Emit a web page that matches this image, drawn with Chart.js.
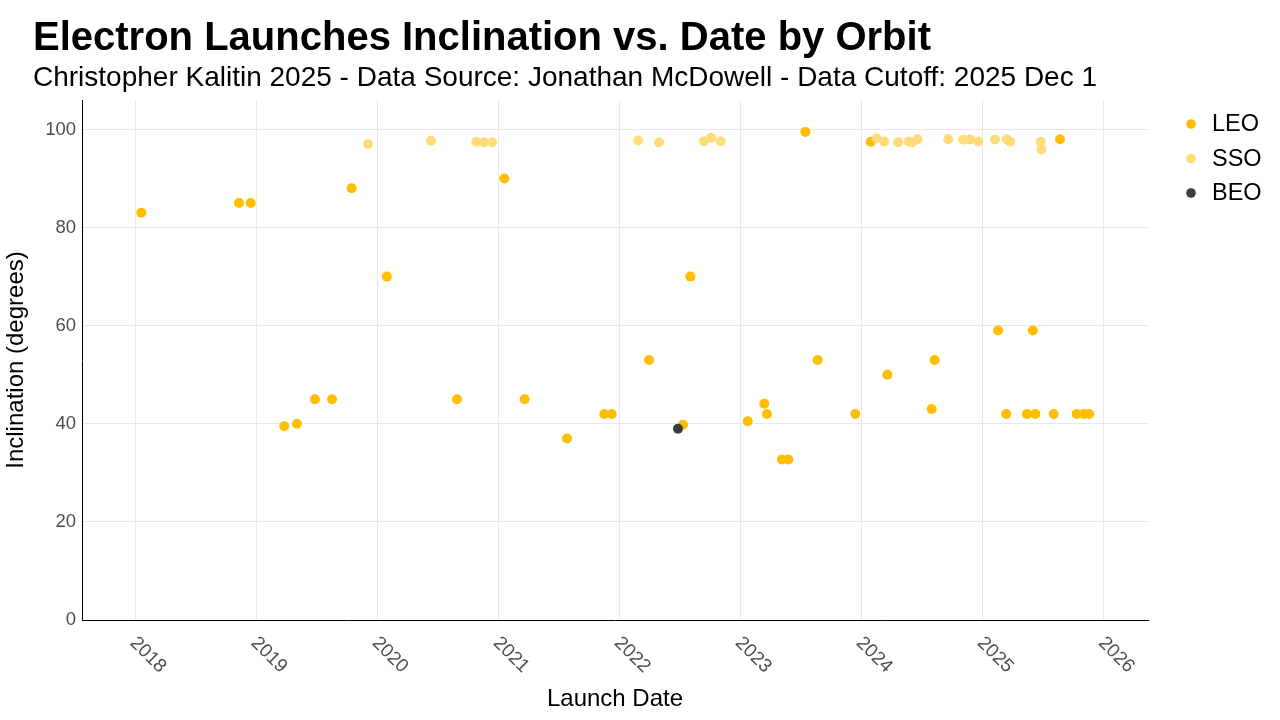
<!DOCTYPE html>
<html>
<head>
<meta charset="utf-8">
<title>Electron Launches Inclination vs. Date by Orbit</title>
<script src="https://cdn.jsdelivr.net/npm/chart.js@4.4.1/dist/chart.umd.min.js"></script>
<style>
  html, body { margin: 0; padding: 0; background: #fff; }
  #wrap { width: 1280px; height: 720px; }
</style>
</head>
<body>
<div id="wrap"><canvas id="chart" width="1280" height="720"></canvas></div>
<script>
// launch dates as decimal years, inclination in degrees
const leoDates = [2018.052, 2018.859, 2018.956, 2019.233, 2019.338, 2019.487, 2019.628, 2019.790, 2020.080, 2020.660,
  2021.051, 2021.220, 2021.569, 2021.877, 2021.938, 2022.247, 2022.527, 2022.588, 2023.062, 2023.199,
  2023.221, 2023.344, 2023.397, 2023.538, 2023.640, 2023.951, 2024.078, 2024.215, 2024.582, 2024.607,
  2025.130, 2025.198, 2025.369, 2025.417, 2025.438, 2025.590, 2025.642, 2025.780, 2025.840, 2025.884];
const leoIncl = [83, 85, 85, 39.5, 40, 45, 45, 88, 70, 45,
  90, 45, 37, 42, 42, 53, 39.8, 70, 40.5, 44.1,
  42, 32.7, 32.7, 99.5, 53, 42, 97.5, 50, 43, 53,
  59, 42, 42, 59, 42, 42, 98, 42, 42, 42];

const ssoDates = [2019.925, 2020.445, 2020.820, 2020.883, 2020.952, 2022.156, 2022.329, 2022.701, 2022.761, 2022.839,
  2024.128, 2024.190, 2024.306, 2024.392, 2024.425, 2024.466, 2024.719, 2024.841, 2024.898, 2024.967,
  2025.105, 2025.201, 2025.231, 2025.483, 2025.488];
const ssoIncl = [97.0, 97.7, 97.5, 97.4, 97.4, 97.75, 97.4, 97.6, 98.3, 97.6,
  98.2, 97.55, 97.4, 97.55, 97.4, 98.0, 98.0, 97.9, 97.95, 97.55,
  97.95, 98.0, 97.5, 97.5, 95.9];

const beoDates = [2022.486];
const beoIncl = [39.0];

const orbitNames = ["LEO", "SSO", "BEO"];
const orbitColors = ["#FFBF00", "#FFDC7A", "#3A3D42"];

const yearTicks = [2018, 2019, 2020, 2021, 2022, 2023, 2024, 2025, 2026];
const inclTicks = [0, 20, 40, 60, 80, 100];

const FONT = "'Liberation Sans', Arial, sans-serif";

function toPoints(xs, ys) {
  return xs.map((x, i) => ({ x: x, y: ys[i] }));
}

// title, subtitle, legend and the slanted year labels
const decorations = {
  id: "decorations",
  afterDraw(chart) {
    const ctx = chart.ctx;
    ctx.save();
    ctx.fillStyle = "#000";
    ctx.textAlign = "left";
    ctx.textBaseline = "alphabetic";
    ctx.font = "bold 40px " + FONT;
    ctx.fillText("Electron Launches Inclination vs. Date by Orbit", 33, 50);
    ctx.font = "28px " + FONT;
    ctx.fillText("Christopher Kalitin 2025 - Data Source: Jonathan McDowell - Data Cutoff: 2025 Dec 1", 33, 86);

    // legend
    ctx.textBaseline = "middle";
    ctx.font = "23.5px " + FONT;
    chart.data.datasets.forEach((ds, i) => {
      const y = 124 + i * 34.5;
      ctx.beginPath();
      ctx.arc(1191, y, 4.8, 0, Math.PI * 2);
      ctx.fillStyle = ds.backgroundColor;
      ctx.fill();
      ctx.fillStyle = "#000";
      ctx.fillText(ds.label, 1212, y + 1);
    });

    // x tick labels rotated -45 like ggplot
    const xs = chart.scales.x;
    ctx.font = "19px " + FONT;
    ctx.fillStyle = "#4d4d4d";
    ctx.textBaseline = "middle";
    xs.ticks.forEach(t => {
      ctx.save();
      ctx.translate(xs.getPixelForValue(t.value) - 2, 640);
      ctx.rotate(Math.PI / 4);
      ctx.fillText(String(t.value), 0, 0);
      ctx.restore();
    });
    ctx.restore();
  }
};

new Chart(document.getElementById("chart"), {
  type: "scatter",
  data: {
    datasets: [
      { label: orbitNames[0], data: toPoints(leoDates, leoIncl), backgroundColor: orbitColors[0], order: 3 },
      { label: orbitNames[1], data: toPoints(ssoDates, ssoIncl), backgroundColor: orbitColors[1], order: 2 },
      { label: orbitNames[2], data: toPoints(beoDates, beoIncl), backgroundColor: orbitColors[2], order: 1 }
    ]
  },
  options: {
    responsive: false,
    animation: false,
    events: [],
    layout: { padding: { top: 100, right: 132, left: 0, bottom: 0 } },
    elements: { point: { radius: 5, borderWidth: 0, hoverRadius: 5 } },
    plugins: {
      legend: { display: false },
      title: { display: false },
      tooltip: { enabled: false }
    },
    scales: {
      x: {
        type: "linear",
        min: 2017.562,
        max: 2026.369,
        afterBuildTicks: s => { s.ticks = yearTicks.map(v => ({ value: v })); },
        afterFit: s => { s.height = 100; },
        ticks: { display: false },
        grid: { color: "#e8e8e8", lineWidth: 1, drawTicks: false },
        border: { display: true, color: "#000", width: 1 },
        title: {
          display: true,
          text: "Launch Date",
          color: "#000",
          font: { family: FONT, size: 24 },
          padding: { top: 0, bottom: 6 }
        }
      },
      y: {
        min: 0,
        max: 106,
        afterBuildTicks: s => { s.ticks = inclTicks.map(v => ({ value: v })); },
        afterFit: s => { s.width = 82; },
        ticks: { color: "#4d4d4d", font: { family: FONT, size: 18.5 }, padding: 6 },
        grid: { color: "#e8e8e8", lineWidth: 1, drawTicks: false },
        border: { display: true, color: "#000", width: 1 },
        title: {
          display: true,
          text: "Inclination (degrees)",
          color: "#000",
          font: { family: FONT, size: 24 },
          padding: { top: 2, bottom: 0 }
        }
      }
    }
  },
  plugins: [decorations]
});
</script>
</body>
</html>
